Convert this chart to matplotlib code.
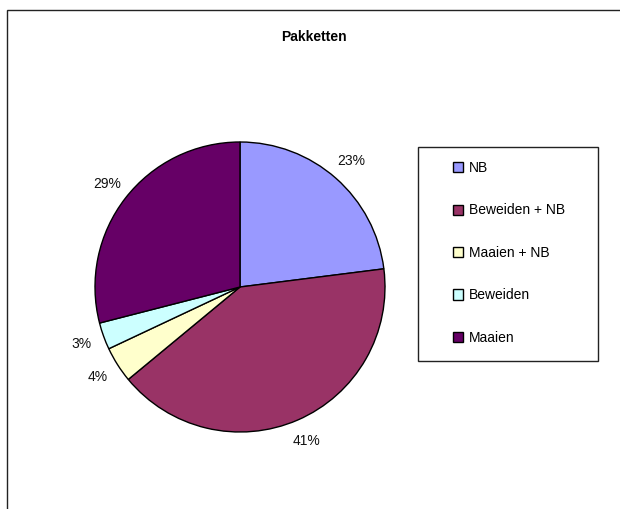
import matplotlib
matplotlib.use("Agg")
import matplotlib.pyplot as plt
from matplotlib.patches import Rectangle, Patch

plt.rcParams['font.family'] = ['Liberation Sans', 'DejaVu Sans']

categories = ["NB", "Beweiden + NB", "Maaien + NB", "Beweiden", "Maaien"]
values = [23, 41, 4, 3, 29]
colors = ["#9999FF", "#993366", "#FFFFCC", "#CCFFFF", "#660066"]
title = "Pakketten"

W, H = 620, 509
fig = plt.figure(figsize=(W / 100, H / 100), dpi=100)
fig.patch.set_facecolor("white")

# outer chart border
fig.patches.append(Rectangle((7 / W, 1 - 515 / H), 620 / W, 505 / H,
                             transform=fig.transFigure, fill=False,
                             edgecolor="#222222", linewidth=1.0))

cx, cy, r = 240, 287, 145
ax = fig.add_axes([(cx - r) / W, 1 - (cy + r) / H, 2 * r / W, 2 * r / H])
wedges, texts = ax.pie(values, colors=colors, startangle=90, counterclock=False,
                       labels=[f"{v}%" for v in values], labeldistance=1.16,
                       wedgeprops=dict(edgecolor="black", linewidth=1.0),
                       textprops=dict(fontsize=10, color="#111111"))
for t in texts:
    t.set_ha("center")
    t.set_va("center")
ax.set_xlim(-1, 1)
ax.set_ylim(-1, 1)
ax.set_aspect("equal")
ax.axis("off")

fig.text(314 / W, 1 - 37 / H, title, ha="center", va="center",
         fontsize=10, fontweight="bold")

# legend box
fig.patches.append(Rectangle((418 / W, 1 - 361 / H), 180 / W, 214 / H,
                             transform=fig.transFigure, fill=False,
                             edgecolor="#222222", linewidth=1.0))
handles = [Patch(facecolor=c, edgecolor="black", linewidth=1.0) for c in colors]
fig.legend(handles, categories, loc="upper left",
           bbox_to_anchor=(453 / W, 1 - 161 / H), frameon=False,
           fontsize=10, borderpad=0, borderaxespad=0,
           handlelength=0.75, handleheight=0.75, handletextpad=0.4,
           labelspacing=2.05)

fig.savefig("out.png", dpi=100)
